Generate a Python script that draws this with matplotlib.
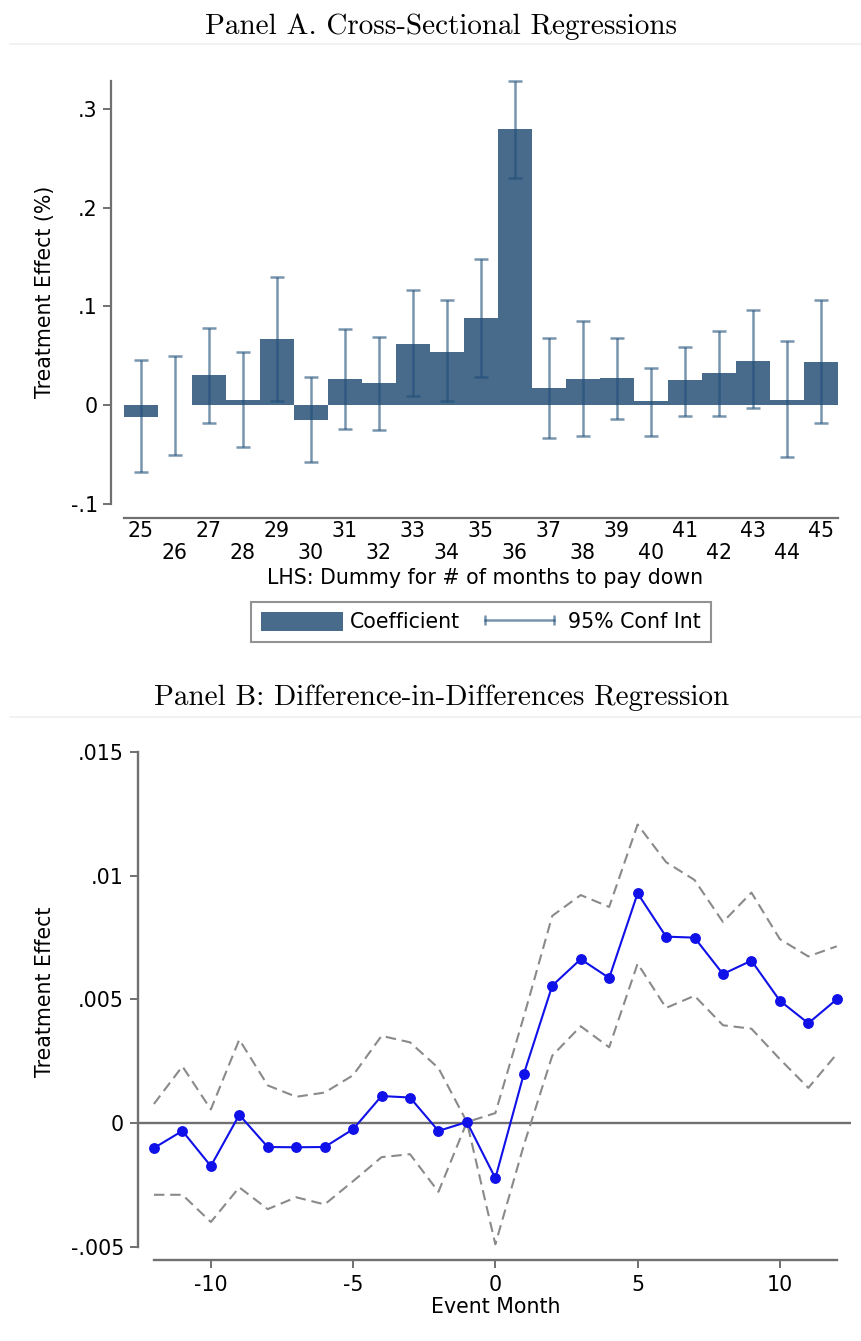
import matplotlib
matplotlib.use("Agg")
import matplotlib.pyplot as plt
from matplotlib.lines import Line2D
from matplotlib.patches import Patch

# ---------------- Data ----------------
# Panel A
months_a = list(range(25, 46))
coef = [-0.012, 0.0, 0.030, 0.005, 0.067, -0.015, 0.026, 0.022, 0.0615, 0.054,
        0.088, 0.280, 0.017, 0.026, 0.027, 0.004, 0.025, 0.032, 0.045, 0.005, 0.044]
ci_lo = [-0.068, -0.051, -0.018, -0.043, 0.004, -0.058, -0.024, -0.025, 0.009, 0.004,
         0.028, 0.230, -0.033, -0.031, -0.014, -0.031, -0.011, -0.011, -0.003, -0.053, -0.018]
ci_hi = [0.046, 0.050, 0.078, 0.054, 0.130, 0.028, 0.077, 0.069, 0.117, 0.106,
         0.148, 0.329, 0.068, 0.085, 0.068, 0.038, 0.059, 0.075, 0.096, 0.065, 0.106]
yticks_a = [-0.1, 0, 0.1, 0.2, 0.3]
yticklabels_a = ["-.1", "0", ".1", ".2", ".3"]

# Panel B
event_month = list(range(-12, 13))
effect = [-0.00101, -0.00032, -0.00174, 0.00033, -0.00097, -0.00098, -0.00097, -0.00025,
          0.00109, 0.00103, -0.00032, 0.00004, -0.00223, 0.00198, 0.00555, 0.00662,
          0.00586, 0.00928, 0.00753, 0.00749, 0.00602, 0.00656, 0.00494, 0.00403, 0.00500]
upper = [0.00077, 0.00229, 0.00055, 0.00337, 0.00152, 0.00106, 0.00123, 0.00193,
         0.00352, 0.00326, 0.00222, 0.00004, 0.0004, 0.0043, 0.00837, 0.00921,
         0.00873, 0.01206, 0.01054, 0.00982, 0.00812, 0.00931, 0.00743, 0.00673, 0.00714]
lower = [-0.0029, -0.0029, -0.0040, -0.0026, -0.00348, -0.0030, -0.00329, -0.00235,
         -0.00138, -0.00126, -0.00278, 0.00004, -0.0049, -0.0009, 0.00272, 0.00391,
         0.00306, 0.00644, 0.00465, 0.00514, 0.00395, 0.00381, 0.00258, 0.00142, 0.00279]
yticks_b = [-0.005, 0, 0.005, 0.01, 0.015]
yticklabels_b = ["-.005", "0", ".005", ".01", ".015"]
xticks_b = [-10, -5, 0, 5, 10]

# ---------------- Style ----------------
plt.rcParams['font.family'] = ['DejaVu Sans']
FS = 14.8
W, H = 862, 1341
fig = plt.figure(figsize=(W / 100, H / 100), dpi=100)

def ax_rect(l, r, t, b):
    return [l / W, 1 - b / H, (r - l) / W, (b - t) / H]

SPINE = '#707070'
BAR = '#486b8b'
ERR = '#1f4e79'

# Titles
fig.text(441 / W, 1 - 27 / H, "Panel A. Cross-Sectional Regressions",
         family='cmr10', fontsize=21, ha='center', va='center')
fig.text(442 / W, 1 - 698 / H, "Panel B: Difference-in-Differences Regression",
         family='cmr10', fontsize=21, ha='center', va='center')
for yy in (44, 717):
    fig.add_artist(Line2D([10 / W, 1], [1 - yy / H, 1 - yy / H], color='#f0f0f0', lw=1.2))

# ---------------- Panel A ----------------
axA = fig.add_axes(ax_rect(111, 840, 78, 518))
axA.bar(months_a, coef, width=1.0, color=BAR, edgecolor='none', zorder=2)
yerr = [[c - lo for c, lo in zip(coef, ci_lo)], [hi - c for c, hi in zip(coef, ci_hi)]]
axA.errorbar(months_a, coef, yerr=yerr, fmt='none', ecolor=ERR, alpha=0.6,
             elinewidth=1.8, capsize=5, capthick=1.8, zorder=3)
axA.set_xlim(24.124, 45.565)
axA.set_ylim(-0.1146, 0.3316)
for s in ('top', 'right'):
    axA.spines[s].set_visible(False)
axA.spines['left'].set_bounds(-0.1, 0.329)
axA.spines['bottom'].set_bounds(24.5, 45.5)
for s in ('left', 'bottom'):
    axA.spines[s].set_color(SPINE)
    axA.spines[s].set_linewidth(1.6)
axA.set_yticks(yticks_a)
axA.set_yticklabels(yticklabels_a)
axA.set_xticks(months_a)
axA.set_xticklabels([str(m) if m % 2 == 1 else "\n" + str(m) for m in months_a],
                    linespacing=1.12)
axA.tick_params(axis='x', length=0, pad=2, labelsize=FS)
axA.tick_params(axis='y', length=6, width=1.4, color=SPINE, pad=3.5, labelsize=FS)
axA.set_xlabel("LHS: Dummy for # of months to pay down", fontsize=FS)
axA.xaxis.set_label_coords((485 - 111) / (840 - 111), (518 - 578) / (518 - 78))
axA.xaxis.label.set_va('center')
axA.set_ylabel("Treatment Effect (%)", fontsize=FS)
axA.yaxis.set_label_coords((45 - 111) / (840 - 111), (518 - 292) / (518 - 78))
axA.yaxis.label.set_va('center')

h_bar = Patch(facecolor=BAR, edgecolor='none')
h_ci = Line2D([0], [0], color=ERR, alpha=0.6, lw=1.8, marker='|', markersize=7,
              markeredgewidth=1.8)
leg = axA.legend([h_bar, h_ci], ["Coefficient", "95% Conf Int"], ncol=2,
                 loc='center', bbox_to_anchor=(481 / W, 1 - 622 / H),
                 bbox_transform=fig.transFigure, fontsize=FS, numpoints=2,
                 handlelength=3.95, handleheight=1.05, handletextpad=0.38,
                 columnspacing=0.9, borderpad=0.48, fancybox=False, frameon=True)
leg.get_frame().set_edgecolor('#777777')
leg.get_frame().set_linewidth(1.5)

# ---------------- Panel B ----------------
axB = fig.add_axes(ax_rect(138, 851, 745, 1260))
axB.axhline(0, color=SPINE, lw=1.7, zorder=1)
axB.plot(event_month, upper, color='#8a8a8a', lw=1.5, dashes=(5, 2.8), zorder=2)
axB.plot(event_month, lower, color='#8a8a8a', lw=1.5, dashes=(5, 2.8), zorder=2)
axB.plot(event_month, effect, color='#1010e8', lw=1.5, marker='o', markersize=6.8,
         zorder=3)
axB.set_xlim(-12.56, 12.50)
axB.set_ylim(-0.005535, 0.015273)
for s in ('top', 'right'):
    axB.spines[s].set_visible(False)
axB.spines['left'].set_bounds(-0.005, 0.015)
axB.spines['bottom'].set_bounds(-12, 12)
for s in ('left', 'bottom'):
    axB.spines[s].set_color(SPINE)
    axB.spines[s].set_linewidth(1.7)
axB.set_yticks(yticks_b)
axB.set_yticklabels(yticklabels_b)
axB.set_xticks(xticks_b)
axB.set_xticklabels([str(v) for v in xticks_b])
axB.tick_params(axis='both', length=6, width=1.4, color=SPINE, labelsize=FS)
axB.tick_params(axis='y', pad=4)
axB.tick_params(axis='x', pad=5)
axB.set_xlabel("Event Month", fontsize=FS)
axB.xaxis.set_label_coords((496 - 138) / (851 - 138), (1260 - 1307) / (1260 - 745))
axB.xaxis.label.set_va('center')
axB.set_ylabel("Treatment Effect", fontsize=FS)
axB.yaxis.set_label_coords((45 - 138) / (851 - 138), (1260 - 992) / (1260 - 745))
axB.yaxis.label.set_va('center')

fig.savefig("out.png", dpi=100)
